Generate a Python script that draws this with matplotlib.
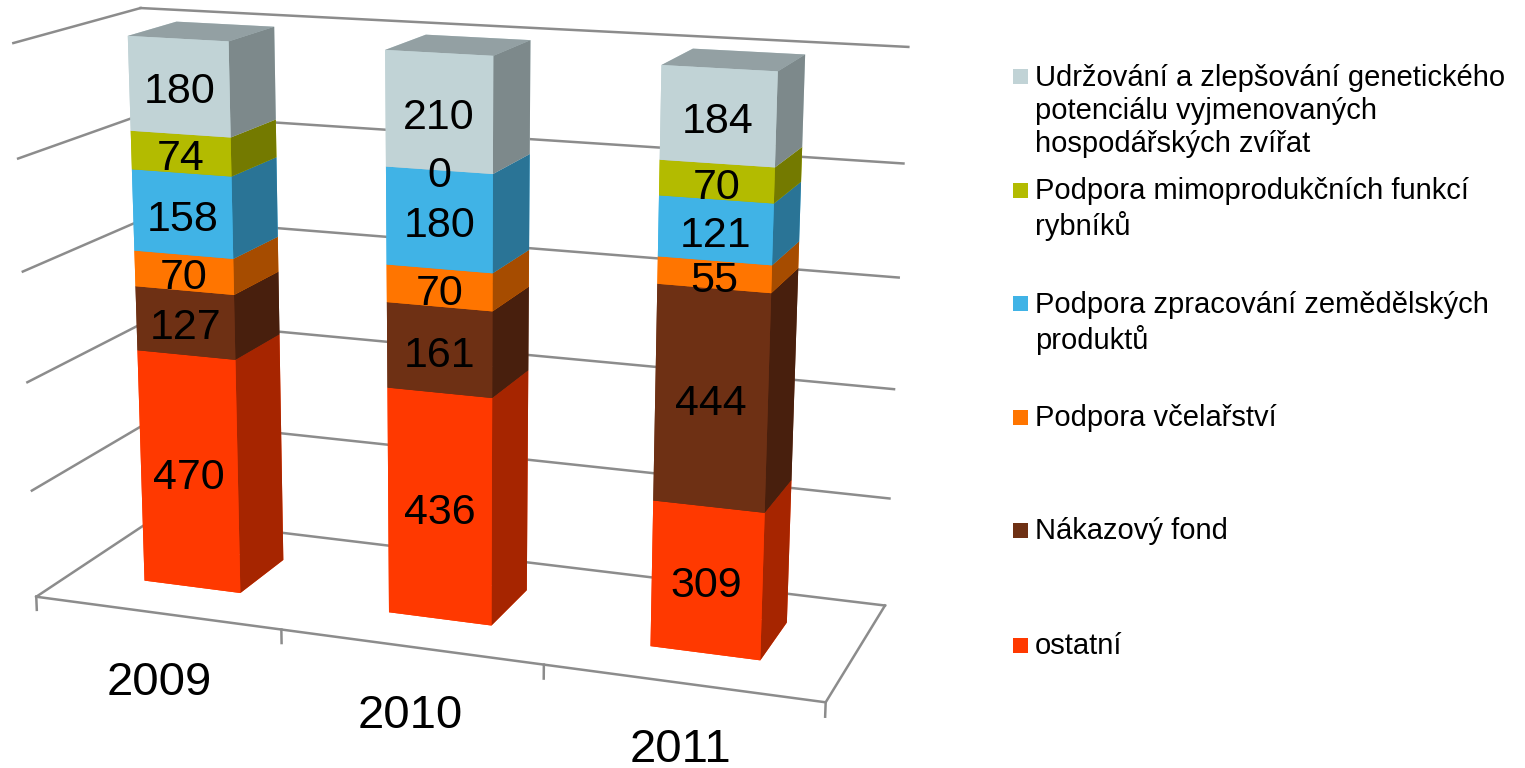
import numpy as np
import matplotlib
matplotlib.use("Agg")
import matplotlib.pyplot as plt
from matplotlib.patches import Rectangle
from mpl_toolkits.mplot3d import proj3d

W, H = 1525, 768
plt.rcParams['font.family'] = ['Liberation Sans', 'DejaVu Sans']

years = ["2009", "2010", "2011"]
names = ["ostatní", "Nákazový fond", "Podpora včelařství",
         "Podpora zpracování zemědělských\nproduktů",
         "Podpora mimoprodukčních funkcí\nrybníků",
         "Udržování a zlepšování genetického\npotenciálu vyjmenovaných\nhospodářských zvířat"]
ostatni = [470, 436, 309]
nakazovy = [127, 161, 444]
vcelarstvi = [70, 70, 55]
zpracovani = [158, 180, 121]
rybniky = [74, 0, 70]
genetika = [180, 210, 184]
series = [ostatni, nakazovy, vcelarstvi, zpracovani, rybniky, genetika]
colors = ["#ff3900", "#6e3014", "#ff7500", "#40b3e6", "#b3bb00", "#c1d3d6"]

fig = plt.figure(figsize=(W / 100, H / 100), dpi=100)
# camera en positie zijn eerder gefit op de hoeken van de vloer en wanden
ax = fig.add_axes([-61.5 / W, -82.6 / H, 1013.0 / W, 1013.0 / H], projection='3d', computed_zorder=False)
ax.set_xlim(0, 3, view_margin=0)
ax.set_ylim(0, 1, view_margin=0)
ax.set_zlim(0, 1, view_margin=0)
ax.view_init(elev=14.3872, azim=-69.8667)
ax.set_proj_type('persp', focal_length=0.4911)
ax.set_box_aspect((1, 0.3331, 0.6938))
ax.set_xticks([])
ax.set_yticks([])
ax.set_zticks([])
ax.set_axis_off()
ax.patch.set_alpha(0)
M = ax.get_proj()

grid = "#8c8c8c"
for z in np.arange(0, 1.01, 0.2):
    ax.plot([0, 0], [0, 1], [z, z], color=grid, lw=1.8, zorder=1)
    ax.plot([0, 3], [1, 1], [z, z], color=grid, lw=1.8, zorder=1)
ax.plot([0, 3, 3], [0, 0, 1], [0, 0, 0], color=grid, lw=1.8, zorder=1)
for x in range(4):
    ax.plot([x, x], [0, 0], [0, -0.025], color=grid, lw=1.8, zorder=1)


def shade(c, k):
    return tuple(np.array(matplotlib.colors.to_rgb(c)) * k)


def label(x, y, z, s, size):
    # tekst op de geprojecteerde plek, altijd horizontaal
    u, v, _ = proj3d.proj_transform(x, y, z, M)
    ax.text2D(u, v, s, transform=ax.transData, fontsize=size, ha='center', va='center', zorder=30)


# 100% gestapeld: elke staaf is even hoog
totals = np.sum(series, axis=0)
for k, (vals, col) in enumerate(zip(series, colors)):
    bottoms = np.sum(series[:k], axis=0) / totals if k else np.zeros(3)
    for i in range(3):
        h = vals[i] / totals[i]
        if h > 0:
            ax.bar3d(i + 0.3, 0.3, bottoms[i], 0.4, 0.4, h, shade=False, zorder=10 + k,
                     color=[col, shade(col, 0.76), col, col, col, shade(col, 0.65)], linewidth=0)
        label(i + 0.5, 0.3, bottoms[i] + h / 2 - 0.01, str(vals[i]), 31)

for i, y in enumerate(years):
    label(i + 0.5, 0, [-0.132, -0.127, -0.118][i], y, 34)

text_y = [646, 531, 418, 323, 209, 111]
mark_y = [645, 530, 417, 304, 190, 76]
for n, c, ty, my in zip(names, colors, text_y, mark_y):
    fig.text(1035 / W, 1 - ty / H, n, fontsize=21, va='center', ha='left', linespacing=1.21)
    fig.add_artist(Rectangle((1013 / W, 1 - (my + 7.5) / H), 15 / W, 15 / H, color=c,
                             transform=fig.transFigure, lw=0))

fig.savefig("out.png", dpi=100)
